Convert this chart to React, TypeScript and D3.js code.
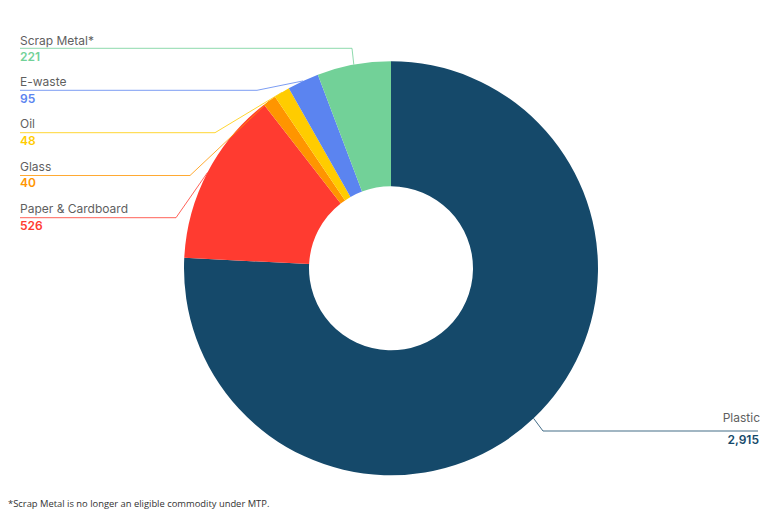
import React from "react";
import * as d3 from "d3";

const categories = ["Plastic", "Paper & Cardboard", "Glass", "Oil", "E-waste", "Scrap Metal*"];
const values = [2915, 526, 40, 48, 95, 221];
const colors = ["#15496a", "#ff3b30", "#ff9500", "#ffcc00", "#5b84f0", "#72d198"];
const footnote = "*Scrap Metal is no longer an eligible commodity under MTP.";

const W = 782;
const H = 522;
const cx = 391;
const cy = 268.3;
const rOuter = 207;
const rInner = 82;

// label layout: side, name baseline, leader line y, value baseline, elbow x
const labelLayout: Record<
  string,
  { side: "left" | "right"; y: number; lineY: number; valueY: number; elbowX: number }
> = {
  "Scrap Metal*": { side: "left", y: 44.5, lineY: 48.3, valueY: 61, elbowX: 352 },
  "E-waste": { side: "left", y: 86, lineY: 90.3, valueY: 102.5, elbowX: 257 },
  Oil: { side: "left", y: 128, lineY: 132.7, valueY: 145, elbowX: 215 },
  Glass: { side: "left", y: 170.5, lineY: 175.5, valueY: 187, elbowX: 190 },
  "Paper & Cardboard": { side: "left", y: 213, lineY: 217.7, valueY: 230, elbowX: 176 },
  Plastic: { side: "right", y: 421.7, lineY: 431, valueY: 444.3, elbowX: 543 },
};

export default function App() {
  const data = categories.map((c, i) => ({ name: c, value: values[i], color: colors[i] }));
  const pie = d3
    .pie<{ name: string; value: number; color: string }>()
    .sort(null)
    .value((d) => d.value)
    .startAngle(0)
    .endAngle(2 * Math.PI);
  const arcs = pie(data);
  const arc = d3
    .arc<d3.PieArcDatum<{ name: string; value: number; color: string }>>()
    .innerRadius(rInner)
    .outerRadius(rOuter);
  const fmt = d3.format(",");
  const font = "Inter, 'Noto Sans', sans-serif";

  return (
    <svg
      width={W}
      height={H}
      viewBox={`0 0 ${W} ${H}`}
      style={{ position: "absolute", left: 0, top: 0, background: "#fff" }}
    >
      <g transform={`translate(${cx},${cy})`}>
        {arcs.map((a) => (
          <path key={a.data.name} d={arc(a) || ""} fill={a.data.color} />
        ))}
      </g>
      {arcs.map((a) => {
        const L = labelLayout[a.data.name];
        const mid = (a.startAngle + a.endAngle) / 2;
        const px = cx + rOuter * Math.sin(mid);
        const py = cy - rOuter * Math.cos(mid);
        const left = L.side === "left";
        const endX = left ? 20 : 758;
        const textX = left ? 20 : 760;
        const anchor = left ? "start" : "end";
        return (
          <g key={"l" + a.data.name}>
            <polyline
              points={`${px},${py} ${L.elbowX},${L.lineY} ${endX},${L.lineY}`}
              fill="none"
              stroke={a.data.color}
              strokeOpacity={0.8}
              strokeWidth={1}
            />
            <text
              x={textX}
              y={L.y}
              textAnchor={anchor}
              fontFamily={font}
              fontSize={12}
              fill="#5f5f5f"
            >
              {a.data.name}
            </text>
            <text
              x={textX - (left ? 0 : 1)}
              y={L.valueY}
              textAnchor={anchor}
              fontFamily={font}
              fontSize={12}
              fontWeight={600}
              fill={a.data.color}
            >
              {fmt(a.data.value)}
            </text>
          </g>
        );
      })}
      <text x={8} y={507} fontFamily={"'Open Sans', sans-serif"} fontSize={9.4} fill="#333">
        {footnote}
      </text>
    </svg>
  );
}
